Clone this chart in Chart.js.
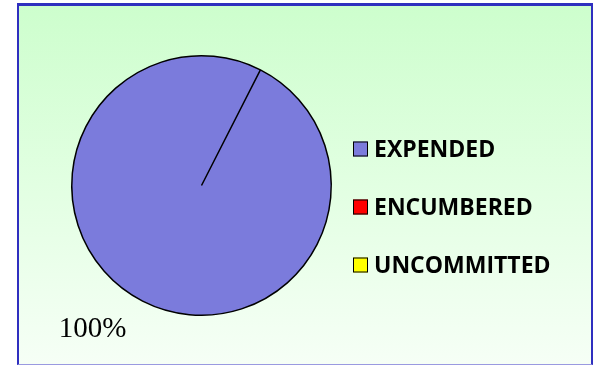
<!DOCTYPE html>
<html>
<head>
<meta charset="utf-8">
<script src="https://cdn.jsdelivr.net/npm/chart.js@4"></script>
<style>
  html, body { margin: 0; padding: 0; background: #fff; }
  #frame {
    position: absolute; left: 17px; top: 3px;
    width: 572px; height: 358px;
    border-top: 3px solid #2f2fbf;
    border-left: 2px solid #2f2fbf;
    border-right: 2px solid #2f2fbf;
    border-bottom: 1px solid #9a9ae0;
    background: linear-gradient(to bottom, #cdfecd 0%, #e2ffe2 50%, #f6fff6 100%);
  }
  canvas { display: block; }
</style>
</head>
<body>
<div id="frame"><canvas id="js-chart-funds" width="572" height="358"></canvas></div>
<script>
// Fund status categories and their amounts
const categories = ["EXPENDED", "ENCUMBERED", "UNCOMMITTED"];
const amounts = [100, 0, 0];
const sliceColors = ["#7b7bdc", "#ff0000", "#ffff00"];

// Legend drawn on the right, one row per category
const sideLegend = {
    id: "sideLegend",
    afterDraw(chart) {
        const ctx = chart.ctx;
        const x = 334, top = 143, step = 58;
        ctx.save();
        ctx.font = "bold 23px 'Open Sans', sans-serif";
        ctx.textBaseline = "middle";
        chart.data.labels.forEach((label, i) => {
            const y = top + i * step;
            ctx.fillStyle = chart.data.datasets[0].backgroundColor[i];
            ctx.fillRect(x, y - 7.5, 15, 15);
            ctx.lineWidth = 1;
            ctx.strokeStyle = "#000";
            ctx.strokeRect(x + 0.5, y - 7, 14, 14);
            ctx.fillStyle = "#000";
            ctx.fillText(label, x + 21, y + 1);
        });
        ctx.restore();
    }
};

// Percentage label for the main slice
const percentLabel = {
    id: "percentLabel",
    afterDatasetsDraw(chart) {
        const ctx = chart.ctx;
        const arc = chart.getDatasetMeta(0).data[0];
        const total = amounts.reduce((a, b) => a + b, 0);
        const pct = Math.round(amounts[0] / total * 100) + "%";
        ctx.save();
        ctx.font = "29px 'Liberation Serif', 'Times New Roman', serif";
        ctx.fillStyle = "#000";
        ctx.textAlign = "center";
        ctx.textBaseline = "alphabetic";
        ctx.fillText(pct, arc.x - 0.84 * arc.outerRadius, arc.y + 1.17 * arc.outerRadius);
        ctx.restore();
    }
};

document.addEventListener("DOMContentLoaded", function() {
    new Chart(document.getElementById("js-chart-funds"), {
        type: "pie",
        data: {
            labels: categories,
            datasets: [{
                data: amounts,
                backgroundColor: sliceColors,
                borderColor: "#000",
                borderWidth: 1.5,
                hoverOffset: 0
            }]
        },
        options: {
            responsive: false,
            animation: false,
            rotation: 27,
            layout: { padding: { left: 52, right: 259, top: 49, bottom: 48 } },
            plugins: {
                legend: { display: false },
                tooltip: { enabled: false }
            }
        },
        plugins: [sideLegend, percentLabel]
    });
});
</script>
</body>
</html>
